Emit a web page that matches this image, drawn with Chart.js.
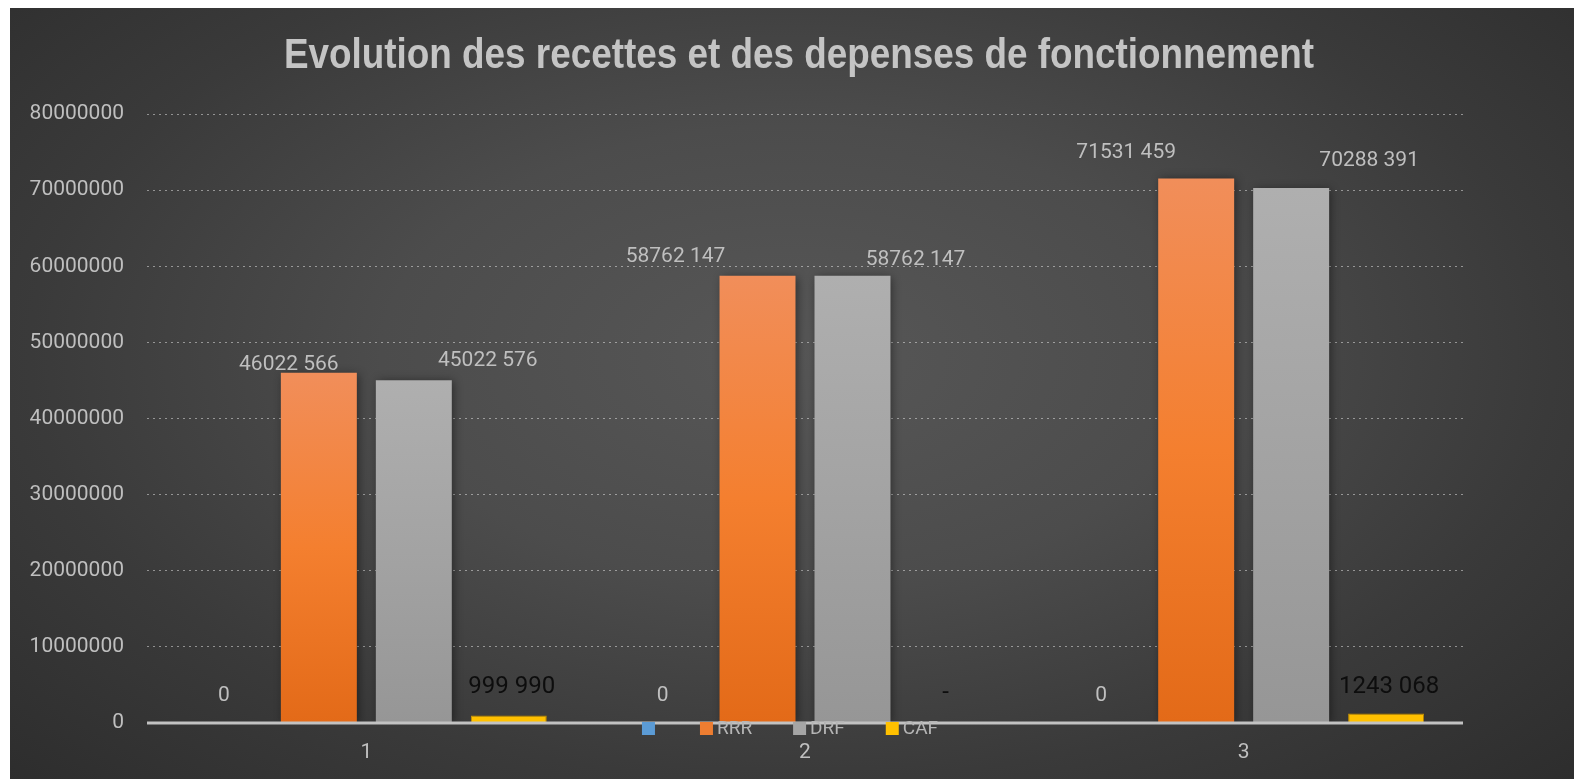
<!DOCTYPE html>
<html>
<head>
<meta charset="utf-8">
<script src="https://cdn.jsdelivr.net/npm/chart.js@4.4.0/dist/chart.umd.min.js"></script>
<style>
  html, body { margin: 0; padding: 0; background: #fff; }
  #wrap {
    position: absolute; left: 10px; top: 8px; width: 1564px; height: 771px;
    background: radial-gradient(ellipse 75% 85% at 50% 45%, #575757 0%, #4c4c4c 35%, #3a3a3a 65%, #2a2a2a 100%);
  }
  canvas { display: block; }
</style>
</head>
<body>
<div id="wrap"><canvas id="chart" width="1564" height="771"></canvas></div>
<script>
const categories = ['1', '2', '3'];
const blankValues = [0, 0, 0];
const rrrValues = [46022566, 58762147, 71531459];
const drfValues = [45022576, 58762147, 70288391];
const cafValues = [999990, 0, 1243068];
const seriesNames = ['', 'RRR', 'DRF', 'CAF'];
const chartTitle = 'Evolution des recettes et des depenses de fonctionnement';

const FONT = 'Roboto, "Liberation Sans", sans-serif';
const TEXT = '#bfbfbf';
const swatches = ['#5b9bd5', '#ed7d31', '#a5a5a5', '#ffc000'];

// hand-placed label shifts (dx, dy from bar top), as in the workbook
const labelShift = [
    [[0, -27], [0, -27], [0, -27]],
    [[-30, -8], [-82, -19], [-70, -26]],
    [[74, -20], [63, -16], [78, -27]],
    [[3, -28], [-2, -30], [3, -27]],
];

function formatValue(v, dash) {
    if (v === 0) return dash ? '-' : '0';
    const k = Math.floor(v / 1000);
    const r = String(v % 1000).padStart(3, '0');
    return k > 0 ? k + ' ' + r : String(v);
}

function gradientFill(stops) {
    return (ctx) => {
        const chart = ctx.chart;
        const y = chart.scales.y;
        if (!y || ctx.type !== 'data') return stops[0];
        const top = y.getPixelForValue(ctx.raw);
        const base = y.getPixelForValue(0);
        if (!(base > top)) return stops[stops.length - 1];
        const g = chart.ctx.createLinearGradient(0, top, 0, base);
        stops.forEach((c, i) => g.addColorStop(i / (stops.length - 1), c));
        return g;
    };
}

// narrow bold title (Arial Narrow look: bold sans squeezed horizontally)
const narrowTitle = {
    id: 'narrowTitle',
    afterDraw(chart) {
        const c = chart.ctx;
        c.save();
        c.font = 'bold 43px "Liberation Sans", Arial, sans-serif';
        c.fillStyle = '#c4c4c4';
        c.textAlign = 'center';
        c.textBaseline = 'alphabetic';
        c.translate(chart.width / 2 + 7, 60);
        c.scale(0.857, 1);
        c.fillText(chartTitle, 0, 0);
        c.restore();
    },
};

const barShadow = {
    id: 'barShadow',
    beforeDatasetsDraw(chart) {
        const c = chart.ctx;
        c.save();
        c.shadowColor = 'rgba(0,0,0,0.45)';
        c.shadowBlur = 9;
        c.shadowOffsetX = 2;
        c.shadowOffsetY = 1;
    },
    afterDatasetsDraw(chart) {
        chart.ctx.restore();
    },
};

const zeroLine = {
    id: 'zeroLine',
    afterDatasetsDraw(chart) {
        const c = chart.ctx;
        const area = chart.chartArea;
        const y = chart.scales.y.getPixelForValue(0);
        c.save();
        c.strokeStyle = '#c2c2c2';
        c.lineWidth = 3;
        c.beginPath();
        c.moveTo(area.left, y);
        c.lineTo(area.right, y);
        c.stroke();
        c.restore();
    },
};

const valueLabels = {
    id: 'valueLabels',
    afterDatasetsDraw(chart) {
        const c = chart.ctx;
        c.save();
        c.textAlign = 'center';
        c.textBaseline = 'middle';
        chart.data.datasets.forEach((ds, di) => {
            const meta = chart.getDatasetMeta(di);
            const caf = di === 3;
            c.fillStyle = caf ? '#0d0d0d' : TEXT;
            c.font = (caf ? 24 : 21) + 'px ' + FONT;
            meta.data.forEach((bar, i) => {
                const [dx, dy] = labelShift[di][i];
                c.fillText(formatValue(ds.data[i], caf), bar.x + dx, bar.y + dy);
            });
        });
        c.restore();
    },
};

const bottomLegend = {
    id: 'bottomLegend',
    afterDraw(chart) {
        const c = chart.ctx;
        const box = 13, gap = 4, spacing = 41;
        c.save();
        c.font = '19px ' + FONT;
        c.textBaseline = 'middle';
        const widths = seriesNames.map((n) => c.measureText(n).width);
        let total = 0;
        widths.forEach((w, i) => {
            total += box + gap + w + (i < widths.length - 1 ? spacing : 0);
        });
        let x = chart.width / 2 - 2 - total / 2;
        const yMid = chart.chartArea.bottom + 5.5;
        seriesNames.forEach((n, i) => {
            c.fillStyle = swatches[i];
            c.fillRect(x, yMid - box / 2, box, box);
            c.fillStyle = '#b5b5b5';
            c.fillText(n, x + box + gap, yMid + 1);
            x += box + gap + widths[i] + spacing;
        });
        c.restore();
    },
};

new Chart(document.getElementById('chart'), {
    type: 'bar',
    data: {
        labels: categories,
        datasets: [
            { label: seriesNames[0], data: blankValues, backgroundColor: swatches[0] },
            { label: seriesNames[1], data: rrrValues, backgroundColor: gradientFill(['#f18e5a', '#f47f2f', '#e36a18']) },
            { label: seriesNames[2], data: drfValues, backgroundColor: gradientFill(['#afafaf', '#a3a3a3', '#969696']) },
            { label: seriesNames[3], data: cafValues, backgroundColor: '#ffc000', borderColor: '#d9a000', borderWidth: 1 },
        ],
    },
    options: {
        responsive: false,
        animation: false,
        datasets: { bar: { categoryPercentage: 0.866, barPercentage: 0.8 } },
        layout: { padding: { left: 0, right: 111, top: 106, bottom: 0 } },
        plugins: {
            legend: { display: false },
            tooltip: { enabled: false },
            title: { display: false },
        },
        scales: {
            x: {
                grid: { display: false, drawTicks: false },
                border: { display: false },
                ticks: { color: TEXT, font: { family: FONT, size: 21 }, padding: 17 },
                afterFit: (s) => { s.height = 56; },
            },
            y: {
                min: 0,
                max: 80000000,
                ticks: {
                    stepSize: 10000000,
                    color: TEXT,
                    font: { family: FONT, size: 21 },
                    padding: 23,
                    callback: (v) => String(v),
                },
                grid: {
                    drawTicks: false,
                    color: (ctx) => (ctx.tick && ctx.tick.value === 0 ? 'rgba(0,0,0,0)' : 'rgba(255,255,255,0.45)'),
                },
                border: { display: false, dash: [2, 4] },
                afterFit: (s) => { s.width = 137; },
            },
        },
    },
    plugins: [barShadow, zeroLine, valueLabels, bottomLegend, narrowTitle],
});
</script>
</body>
</html>
